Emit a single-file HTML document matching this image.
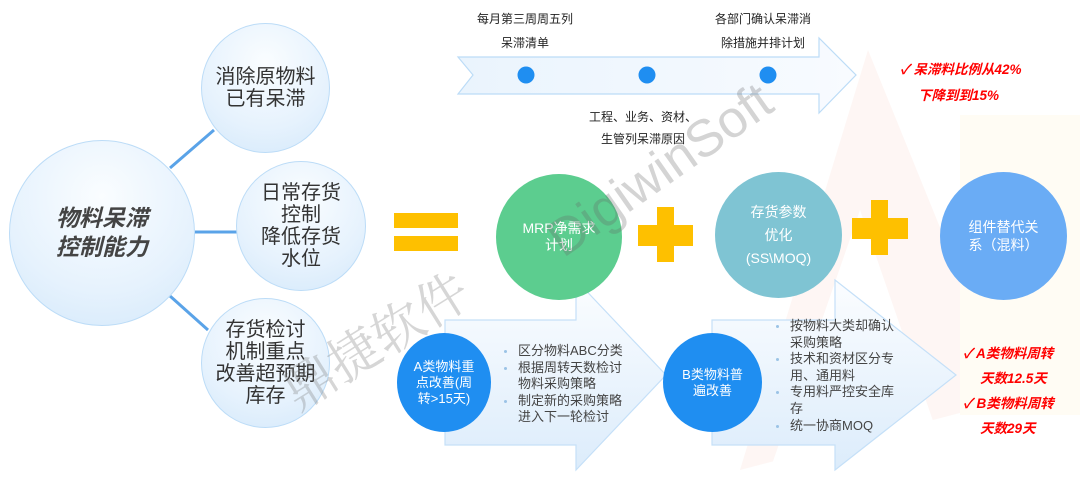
<!DOCTYPE html>
<html><head><meta charset="utf-8"><style>
body{margin:0;width:1080px;height:481px;overflow:hidden;background:#fff;font-family:"Liberation Sans","Noto Sans CJK SC",sans-serif;position:relative}
.a{position:absolute}
.c{position:absolute;border-radius:50%;display:flex;align-items:center;justify-content:center;text-align:center;box-sizing:border-box}
.lc{background:radial-gradient(circle at 50% 30%,#fafdff 0%,#e6f2fd 60%,#d3e8fb 100%);border:1.5px solid #bcdcf7;color:#333;font-size:20px;line-height:22px}
.t{position:absolute;font-size:12px;color:#222;white-space:nowrap;transform:translateX(-50%)}
.r{position:absolute;color:#f00;font-weight:bold;font-style:italic;font-size:13.5px;white-space:nowrap}
.b{position:absolute;font-size:13px;color:#444;line-height:16.6px}
.b div{position:relative;padding-left:0}
.b .d:before{content:"";position:absolute;left:-14px;top:7px;width:3px;height:3px;border-radius:50%;background:#9bc3e6}
</style></head><body>
<svg class="a" style="left:0;top:0" width="1080" height="481">
<defs>
<linearGradient id="g1" x1="0" y1="0" x2="1" y2="0"><stop offset="0" stop-color="#eaf4fd"/><stop offset="1" stop-color="#f8fbff"/></linearGradient>
<linearGradient id="g2" x1="0" y1="0" x2="0" y2="1"><stop offset="0" stop-color="#fbfdff"/><stop offset="1" stop-color="#dcecfb"/></linearGradient>
</defs>
<polygon points="868,50 1010,400 740,470" fill="#fdf2f0" opacity="0.7"/>
<polygon points="860,210 950,470 770,470" fill="#fff"/>
<rect x="960" y="115" width="120" height="300" fill="#fffcf4"/>
<line x1="170" y1="168" x2="214" y2="130" stroke="#5aa3e8" stroke-width="3"/>
<line x1="195" y1="232" x2="237" y2="232" stroke="#5aa3e8" stroke-width="3"/>
<line x1="170" y1="296" x2="208" y2="330" stroke="#5aa3e8" stroke-width="3"/>
<polygon points="458,57 819,57 819,38 856,75 819,113 819,94 458,94 473,75" fill="url(#g1)" stroke="#bcdcf7" stroke-width="1.2"/>
<circle cx="526" cy="75" r="8.5" fill="#1f8ef1"/>
<circle cx="647" cy="75" r="8.5" fill="#1f8ef1"/>
<circle cx="768" cy="75" r="8.5" fill="#1f8ef1"/>
<polygon points="445,320 576,320 576,280 666,375 576,470 576,445 445,445" fill="url(#g2)" stroke="#c5e0f8" stroke-width="1.2"/>
<polygon points="712,320 835,320 835,280 956,375 835,470 835,445 712,445" fill="url(#g2)" stroke="#c5e0f8" stroke-width="1.2"/>
<rect x="394" y="213" width="64" height="15" fill="#fec000"/>
<rect x="394" y="236" width="64" height="15" fill="#fec000"/>
<rect x="638" y="225" width="55" height="21" fill="#fec000"/>
<rect x="657" y="207" width="17" height="55" fill="#fec000"/>
<rect x="852" y="218" width="56" height="21" fill="#fec000"/>
<rect x="871" y="200" width="17" height="55" fill="#fec000"/>
</svg>
<div class="c lc" style="left:9px;top:140px;width:186px;height:186px;font-size:23px;line-height:29px;font-weight:bold;font-style:italic;color:#444">物料呆滞<br>控制能力</div>
<div class="c lc" style="left:201px;top:23px;width:129px;height:130px">消除原物料<br>已有呆滞</div>
<div class="c lc" style="left:236px;top:161px;width:130px;height:130px">日常存货<br>控制<br>降低存货<br>水位</div>
<div class="c lc" style="left:201px;top:298px;width:129px;height:130px">存货检讨<br>机制重点<br>改善超预期<br>库存</div>
<div class="t" style="left:525px;top:10px">每月第三周周五列</div>
<div class="t" style="left:525px;top:34px">呆滞清单</div>
<div class="t" style="left:763px;top:10px">各部门确认呆滞消</div>
<div class="t" style="left:763px;top:34px">除措施并排计划</div>
<div class="t" style="left:643px;top:108px">工程、业务、资材、</div>
<div class="t" style="left:643px;top:130px">生管列呆滞原因</div>
<div class="r" style="left:900px;top:58px">✓ 呆滞料比例从42%</div>
<div class="r" style="left:918px;top:84px">下降到到15%</div>
<div class="c" style="left:496px;top:174px;width:126px;height:126px;background:#5ccd8f;color:#fff;font-size:14px;line-height:17px">MRP净需求<br>计划</div>
<div class="c" style="left:715px;top:172px;width:127px;height:126px;background:#7fc4d3;color:#fff;font-size:14px;line-height:23px">存货参数<br>优化<br>(SS\MOQ)</div>
<div class="c" style="left:940px;top:172px;width:127px;height:128px;background:#6aacf5;color:#fff;font-size:14px;line-height:18px">组件替代关<br>系（混料）</div>
<div class="c" style="left:397px;top:333px;width:94px;height:99px;background:#1f8ef1;color:#fff;font-size:13px;line-height:16px">A类物料重<br>点改善(周<br>转&gt;15天)</div>
<div class="c" style="left:663px;top:333px;width:99px;height:99px;background:#1f8ef1;color:#fff;font-size:13px;line-height:16px">B类物料普<br>遍改善</div>
<div class="b" style="left:518px;top:343px"><div class="d">区分物料ABC分类</div><div class="d">根据周转天数检讨</div><div>物料采购策略</div><div class="d">制定新的采购策略</div><div>进入下一轮检讨</div></div>
<div class="b" style="left:790px;top:318px"><div class="d">按物料大类却确认</div><div>采购策略</div><div class="d">技术和资材区分专</div><div>用、通用料</div><div class="d">专用料严控安全库</div><div>存</div><div class="d">统一协商MOQ</div></div>
<div class="r" style="left:963px;top:342px">✓ A类物料周转</div>
<div class="r" style="left:980px;top:367px">天数12.5天</div>
<div class="r" style="left:963px;top:392px">✓ B类物料周转</div>
<div class="r" style="left:980px;top:417px">天数29天</div>
<div class="a" style="left:270px;top:300px;font-size:52px;color:rgba(120,120,120,0.3);transform:rotate(-32deg);white-space:nowrap;font-family:'Noto Serif CJK SC',serif">鼎捷软件</div>
<div class="a" style="left:530px;top:140px;font-size:52px;color:rgba(100,100,100,0.28);transform:rotate(-35deg);white-space:nowrap">DigiwinSoft</div>
</body></html>
